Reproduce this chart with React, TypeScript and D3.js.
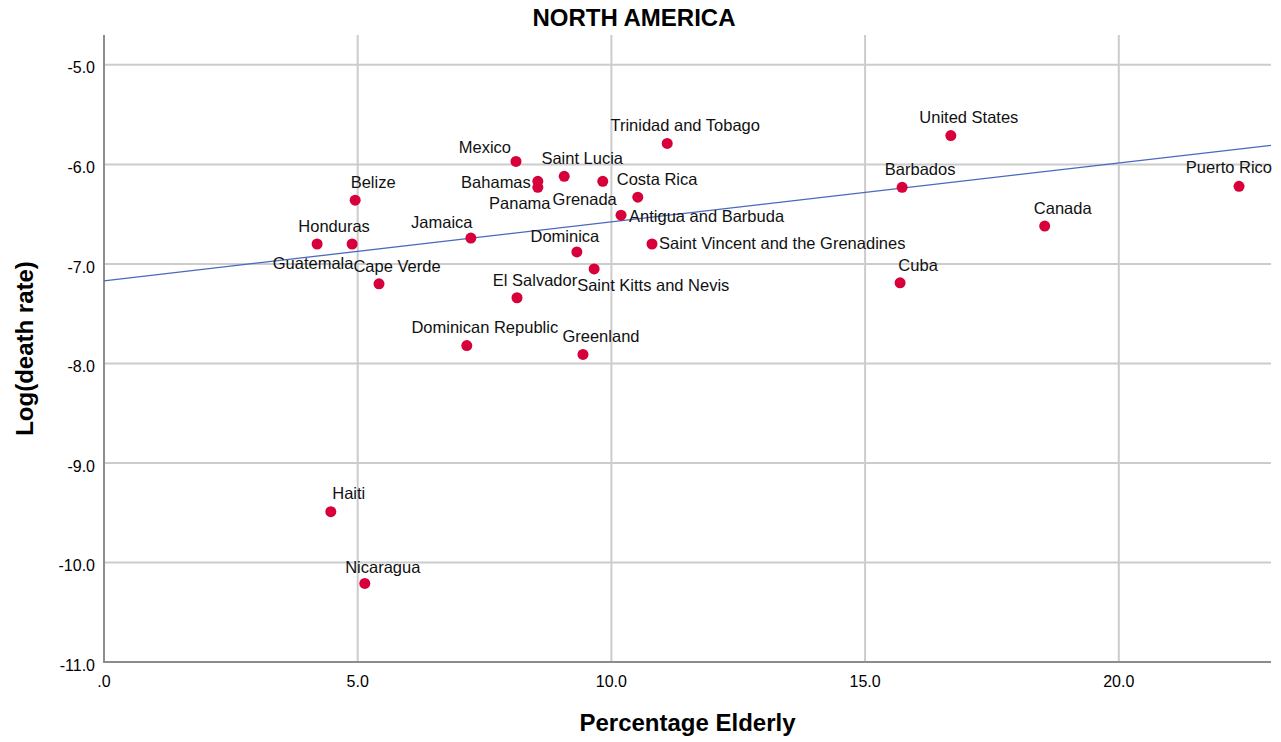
import React from "react";
import * as d3 from "d3";

const countries = [
  "Guatemala", "Honduras", "Belize", "Cape Verde", "Haiti", "Nicaragua",
  "Jamaica", "Dominican Republic", "Mexico", "El Salvador", "Bahamas", "Panama",
  "Saint Lucia", "Costa Rica", "Grenada", "Antigua and Barbuda", "Dominica",
  "Saint Kitts and Nevis", "Greenland", "Saint Vincent and the Grenadines",
  "Trinidad and Tobago", "United States", "Barbados", "Cuba", "Canada", "Puerto Rico",
];
const pctElderly = [
  4.20, 4.89, 4.95, 5.42, 4.47, 5.14,
  7.23, 7.15, 8.12, 8.14, 8.55, 8.55,
  9.07, 9.83, 10.52, 10.19, 9.32,
  9.66, 9.44, 10.80,
  11.10, 16.69, 15.73, 15.69, 18.54, 22.37,
];
const logDeathRate = [
  -6.80, -6.80, -6.36, -7.20, -9.49, -10.21,
  -6.74, -7.82, -5.97, -7.34, -6.17, -6.23,
  -6.12, -6.17, -6.33, -6.51, -6.88,
  -7.05, -7.91, -6.80,
  -5.79, -5.71, -6.23, -7.19, -6.62, -6.22,
];
const fitIntercept = -7.17;
const fitSlope = 0.0592;

const xTicks = [0, 5, 10, 15, 20];
const xTickLabels = [".0", "5.0", "10.0", "15.0", "20.0"];
const yTicks = [-5, -6, -7, -8, -9, -10, -11];
const yTickLabels = ["-5.0", "-6.0", "-7.0", "-8.0", "-9.0", "-10.0", "-11.0"];

// label placement (styling): [dx, dy, anchor]
const defaultPlacement: [number, number, string] = [18, -18, "middle"];
const labelPlacement: Record<string, [number, number, string]> = {
  Mexico: [-5, -14, "end"],
  Bahamas: [-7, 1, "end"],
  Panama: [-18, 16, "middle"],
  "Costa Rica": [14, -2, "start"],
  Grenada: [-21, 2, "end"],
  "Antigua and Barbuda": [8, 1, "start"],
  Honduras: [-18, -18, "middle"],
  Guatemala: [-4, 19, "middle"],
  Jamaica: [-29, -16, "middle"],
  Dominica: [-12, -16, "middle"],
  "Saint Kitts and Nevis": [-17, 16, "start"],
  "Saint Vincent and the Grenadines": [7, -1, "start"],
  "Puerto Rico": [33, -19, "end"],
  Nicaragua: [18, -16, "middle"],
};

const W = 1281, H = 742;
const L = 104, R = 1271, T = 35, B = 662;
const FONT = "'Liberation Sans', Arial, sans-serif";

export default function App() {
  const x = d3.scaleLinear().domain([0, 23]).range([L, R]);
  const y = d3.scaleLinear().domain([-11, -4.7]).range([B, T]);
  const line = d3.line<number>().x((d) => x(d)).y((d) => y(fitIntercept + fitSlope * d));
  const data = countries.map((c, i) => ({ c, xv: pctElderly[i], yv: logDeathRate[i] }));

  return (
    <svg width={W} height={H} style={{ position: "absolute", left: 0, top: 0, background: "#fff" }} fontFamily={FONT}>
      <rect x={0} y={0} width={W} height={H} fill="#fff" />
      <text x={634} y={26} textAnchor="middle" fontSize={24} fontWeight="bold" fill="#000">NORTH AMERICA</text>
      {/* grid */}
      {yTicks.filter((t) => t !== -11).map((t) => (
        <line key={"gy" + t} x1={L} x2={R} y1={y(t)} y2={y(t)} stroke="#cccccc" strokeWidth={2} />
      ))}
      {xTicks.filter((t) => t !== 0).map((t) => (
        <line key={"gx" + t} x1={x(t)} x2={x(t)} y1={T} y2={B} stroke="#cccccc" strokeWidth={2} />
      ))}
      {/* axes */}
      <line x1={L} x2={L} y1={T} y2={B + 1} stroke="#8c8c8c" strokeWidth={2} />
      <line x1={L - 1} x2={R} y1={B} y2={B} stroke="#8c8c8c" strokeWidth={2} />
      {yTicks.map((t, i) => (
        <text key={"yl" + t} x={L - 9} y={y(t) + 3} dy="0.35em" textAnchor="end" fontSize={16} fill="#000">{yTickLabels[i]}</text>
      ))}
      {xTicks.map((t, i) => (
        <text key={"xl" + t} x={x(t)} y={687} textAnchor="middle" fontSize={16} fill="#000">{xTickLabels[i]}</text>
      ))}
      <text x={(L + R) / 2} y={731} textAnchor="middle" fontSize={24} fontWeight="bold" fill="#000">Percentage Elderly</text>
      <text transform={`translate(33, ${(T + B) / 2}) rotate(-90)`} textAnchor="middle" fontSize={24} fontWeight="bold" fill="#000">Log(death rate)</text>
      {/* fit line */}
      <path d={line([0, 23]) || ""} fill="none" stroke="#4a68bd" strokeWidth={1.3} />
      {/* points */}
      {data.map((d) => (
        <circle key={"p" + d.c} cx={x(d.xv)} cy={y(d.yv)} r={5.5} fill="#d7003a" />
      ))}
      {data.map((d) => {
        const p = labelPlacement[d.c] || defaultPlacement;
        return (
          <text key={"t" + d.c} x={x(d.xv) + p[0]} y={y(d.yv) + p[1]} dy="0.35em" textAnchor={p[2] as any} fontSize={16.5} fill="#111">{d.c}</text>
        );
      })}
    </svg>
  );
}
